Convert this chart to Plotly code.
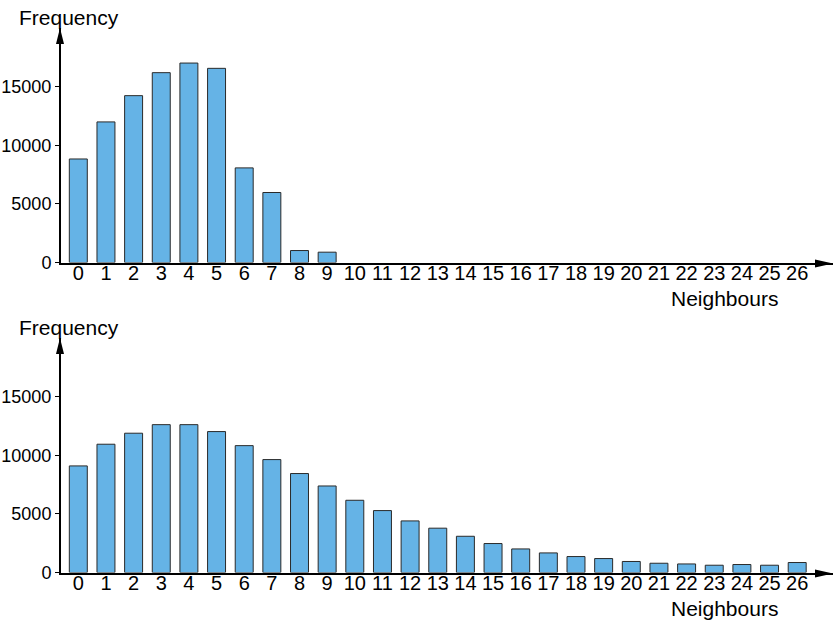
import plotly.graph_objects as go

neighbours = list(range(27))
tick_labels = [str(n) for n in neighbours]
freq_top = [8830, 11990, 14230, 16190, 17010, 16560, 8070, 5970, 1020, 880,
            0, 0, 0, 0, 0, 0, 0, 0, 0, 0, 0, 0, 0, 0, 0, 0, 0]
freq_bottom = [9090, 10940, 11880, 12610, 12610, 12020, 10820, 9630, 8440, 7380,
               6160, 5280, 4400, 3780, 3090, 2470, 2010, 1670, 1360, 1190,
               940, 790, 730, 620, 680, 620, 850]
y_ticks = [0, 5000, 10000, 15000]

W, H = 834, 622
L, R = 61, 1
PW = W - L - R

def py2paper(py):
    return 1 - py / H

def px2paper(px):
    return (px - L) / PW

BAR_COLOR = "#65b3e6"
LINE_COLOR = "#2a2a2a"
FONT = "Liberation Sans, Arial, Helvetica, sans-serif"

def outline_widths(vals):
    return [1 if v > 0 else 0 for v in vals]

fig = go.Figure()
fig.add_trace(go.Bar(x=neighbours, y=freq_top, xaxis="x", yaxis="y",
                     marker=dict(color=BAR_COLOR,
                                 line=dict(color=LINE_COLOR, width=outline_widths(freq_top))),
                     showlegend=False))
fig.add_trace(go.Bar(x=neighbours, y=freq_bottom, xaxis="x2", yaxis="y2",
                     marker=dict(color=BAR_COLOR,
                                 line=dict(color=LINE_COLOR, width=outline_widths(freq_bottom))),
                     showlegend=False))

xr = [-0.626, 27.295]
xcommon = dict(range=xr, tickmode="array", tickvals=neighbours, ticktext=tick_labels,
               showline=True, linecolor="black", linewidth=2, ticks="", showgrid=False,
               zeroline=False, tickfont=dict(family=FONT, size=20, color="black"),
               ticklabelstandoff=-9,
               automargin=False, fixedrange=True)
ycommon = dict(range=[0, 20000], tickmode="array", tickvals=y_ticks,
               ticktext=[str(v) for v in y_ticks],
               showline=True, linecolor="black", linewidth=2, ticks="outside",
               ticklen=4, tickwidth=1, tickcolor="black", showgrid=False,
               zeroline=False, tickfont=dict(family=FONT, size=18, color="black"),
               automargin=False, fixedrange=True)

top_dom = [py2paper(262.5), py2paper(28.0)]
bot_dom = [py2paper(572.5), py2paper(338.0)]

fig.update_layout(
    width=W, height=H,
    margin=dict(l=L, r=R, t=0, b=0),
    paper_bgcolor="white", plot_bgcolor="white",
    bargap=0.35,
    xaxis=dict(anchor="y", domain=[0, 1], **xcommon),
    yaxis=dict(anchor="x", domain=top_dom, **ycommon),
    xaxis2=dict(anchor="y2", domain=[0, 1], **xcommon),
    yaxis2=dict(anchor="x2", domain=bot_dom, **ycommon),
    font=dict(family=FONT, color="black"),
)

shapes = []
for dom in (top_dom, bot_dom):
    # x-axis arrowhead (paper refs so it is not clipped by the plot area)
    shapes.append(dict(type="path", xref="paper", yref="paper",
                       xsizemode="pixel", ysizemode="pixel", xanchor=1, yanchor=dom[0],
                       path="M 0 -1 L -18 3 L -18 -5 Z",
                       fillcolor="black", line=dict(width=0)))
    # y-axis arrowhead
    shapes.append(dict(type="path", xref="paper", yref="paper",
                       xsizemode="pixel", ysizemode="pixel", xanchor=0, yanchor=dom[1],
                       path="M -1 0 L -5 -16 L 3 -16 Z",
                       fillcolor="black", line=dict(width=0)))
fig.update_layout(shapes=shapes)

annotations = []
for off in (0, 310):
    annotations.append(dict(text="Frequency", xref="paper", yref="paper",
                            x=px2paper(17), y=py2paper(17.6 + off),
                            xanchor="left", yanchor="middle", showarrow=False,
                            font=dict(family=FONT, size=21, color="black")))
    annotations.append(dict(text="Neighbours", xref="paper", yref="paper",
                            x=px2paper(724.5), y=py2paper(298 + off),
                            xanchor="center", yanchor="middle", showarrow=False,
                            font=dict(family=FONT, size=21, color="black")))
fig.update_layout(annotations=annotations)

fig.write_html("out.html",
               config={"displayModeBar": False},
               post_script="document.body.style.margin='0px';document.body.style.overflow='hidden';")
